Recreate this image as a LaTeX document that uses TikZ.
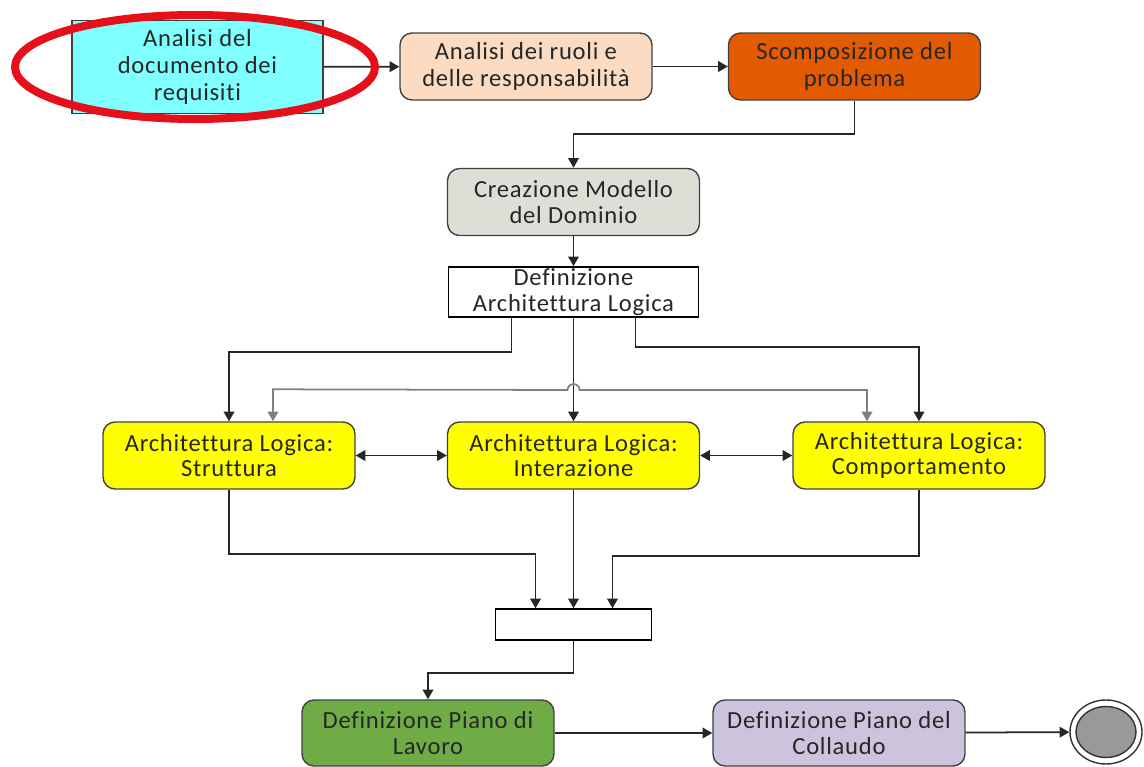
\documentclass[tikz,border=0pt]{standalone}
\usepackage{fontspec}
\usepackage{xcolor}
\usepackage{tikz}
\usetikzlibrary{arrows.meta,shapes.geometric}
\setmainfont{Carlito}[Ligatures=NoCommon, LetterSpace=3]

\definecolor{boxcyan}{HTML}{7FFFFF}
\definecolor{boxpeach}{HTML}{FBDBC2}
\definecolor{boxorange}{HTML}{E35B00}
\definecolor{boxgray}{HTML}{DEDED6}
\definecolor{boxyellow}{HTML}{FFFF00}
\definecolor{boxgreen}{HTML}{6FAC45}
\definecolor{boxlilac}{HTML}{CCC4DC}
\definecolor{ringred}{HTML}{E5101A}

\begin{document}
\begin{tikzpicture}[x=0.02cm, y=-0.02cm,
        font=\fontsize{14}{14.5}\selectfont,
        every node/.style={align=center, text=black!85},
        act/.style={draw=black!75, line width=0.8pt, rounded corners=0.24cm,
            minimum width=5.04cm, minimum height=1.34cm, inner sep=1pt},
        plain/.style={draw=black, line width=0.8pt, fill=white, inner sep=1pt},
        flow/.style={line width=1pt, draw=black!85, -{Triangle[length=5.5pt, width=6pt]}},
        both/.style={flow, {Triangle[length=5.5pt, width=6pt]}-{Triangle[length=5.5pt, width=6pt]}}]
        \useasboundingbox (0,0) rectangle (1144,767);

        % Top row
        \node[plain, fill=boxcyan, draw=black!75, minimum width=5.02cm, minimum height=1.86cm, font=\fontsize{14}{15.5}\selectfont] (0) at (197.5,67) {Analisi del\\documento dei\\requisiti};
        \node[act, fill=boxpeach, font=\fontsize{14}{15.5}\selectfont] (1) at (526,66.5) {Analisi dei ruoli e\\delle responsabilità};
        \node[act, fill=boxorange, font=\fontsize{14}{15.5}\selectfont] (2) at (854.5,66.5) {Scomposizione del\\problema};
        \draw[flow] (0) -- (1);
        \draw[flow] (1) -- (2);

        % Domain model and logical architecture
        \node[act, fill=boxgray] (3) at (573.5,202) {Creazione Modello\\del Dominio};
        \node[plain, minimum width=5cm, minimum height=0.96cm] (4) at (573.5,292) {Definizione\\Architettura Logica};
        \draw[flow] (2.south) -- ++(0,33) -| (3.north);
        \draw[flow] (3) -- (4);

        % The three views of the architecture
        \node[act, fill=boxyellow] (5) at (229,455.5) {Architettura Logica:\\Struttura};
        \node[act, fill=boxyellow] (6) at (573.5,455.5) {Architettura Logica:\\Interazione};
        \node[act, fill=boxyellow] (7) at (919,455.5) {Architettura Logica:\\Comportamento};
        \draw[flow] ([xshift=-1.24cm]4.south) -- ++(0,34) -| (5.north);
        \draw[flow] (4.south) -- (6.north);
        \draw[flow] ([xshift=1.24cm]4.south) -- ++(0,29) -| (7.north);
        \draw[both] (5) -- (6);
        \draw[both] (6) -- (7);
        \draw[both, draw=black!50] ([xshift=0.88cm]5.north) -- ++(0,-32) -- (567.5,390)
            arc[start angle=180, end angle=360, radius=6] -| ([xshift=-1.04cm]7.north);

        % Join
        \node[plain, minimum width=3.12cm, minimum height=0.62cm] (8) at (573.5,624.5) {};
        \draw[flow] (5.south) -- ++(0,64) -| ([xshift=-0.76cm]8.north);
        \draw[flow] (6.south) -- (8.north);
        \draw[flow] (7.south) -- ++(0,66) -| ([xshift=0.78cm]8.north);

        % Bottom row
        \node[act, fill=boxgreen, minimum height=1.32cm] (9) at (428,733) {Definizione Piano di\\Lavoro};
        \node[act, fill=boxlilac, minimum height=1.32cm] (10) at (839,733) {Definizione Piano del\\Collaudo};
        \node[ellipse, draw=black!80, line width=0.8pt, minimum width=1.44cm, minimum height=1.28cm] (11) at (1106,732) {};
        \node[ellipse, draw=black!80, fill=black!40, line width=0.8pt, minimum width=1.2cm, minimum height=1.02cm] (12) at (1106,732) {};
        \draw[flow] (8.south) -- ++(0,32) -| (9.north);
        \draw[flow] (9) -- (10);
        \draw[flow] (10) -- (11);

        % Highlight on the first step
        \draw[ringred, line width=0.16cm] (195,67) ellipse [x radius=180, y radius=52];
\end{tikzpicture}
\end{document}
